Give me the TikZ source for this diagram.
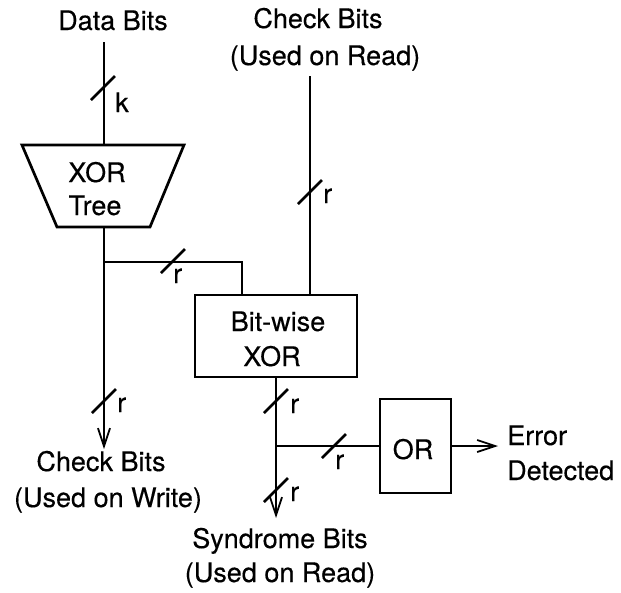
\documentclass[tikz,border=0pt]{standalone}
\usepackage{fontspec}
\newfontfamily\diagfont[FakeBold=0.3]{TeX Gyre Heros}
\usetikzlibrary{arrows.meta}
\begin{document}
\begin{tikzpicture}[x=1pt,y=-1pt,
  wire/.style={line width=2.7pt},
  flow/.style={wire, -{Straight Barb[length=18pt,width=12pt,line width=1.8pt]}},
  block/.style={draw, line width=2.7pt, inner sep=0pt},
  txt/.style={font=\diagfont\fontsize{27}{35}\selectfont, inner sep=0pt, anchor=base},
  buslbl/.style={font=\diagfont\fontsize{27}{30}\selectfont, inner sep=0pt, anchor=base west},
  busmark/.pic={\draw[line width=2.5pt] (-12,12) -- (12,-12);}
]
\useasboundingbox (0,0) rectangle (621,592);

% outer labels
\node[txt] (databits) at (113,30) {Data Bits};
\node[txt] (ckr1) at (318,28) {Check Bits};
\node[txt] (ckr2) at (325,65) {(Used on Read)};
\node[txt] (ckw1) at (101,471) {Check Bits};
\node[txt] (ckw2) at (108,507) {(Used on Write)};
\node[txt] (syn1) at (280,548) {Syndrome Bits};
\node[txt] (syn2) at (280,582) {(Used on Read)};
\node[txt, anchor=base west] (err1) at (507,445) {Error};
\node[txt, anchor=base west] (err2) at (507,480) {Detected};

% XOR tree (trapezoid)
\coordinate (treetop) at (104,145);
\coordinate (treebot) at (104,227);
\draw[wire] (22,145) -- (184,145) -- (150,227) -- (57,227) -- cycle;
\node[txt] (tree1) at (97,182) {XOR};
\node[txt] (tree2) at (95,215) {Tree};

% bit-wise XOR block
\node[block, minimum width=162pt, minimum height=82pt] (bxor) at (276,336) {};
\node[txt] (bx1) at (278,331) {Bit-wise};
\node[txt] (bx2) at (272,366) {XOR};

% OR gate block
\node[block, minimum width=71pt, minimum height=94pt] (orgate) at (415.5,446) {};
\node[txt] (ortxt) at (413,459) {OR};

% wire end points
\coordinate (din) at (104,42);
\coordinate (crin) at (310,76);
\coordinate (split) at (104,262);
\coordinate (wout) at (104,449);
\coordinate (tap) at (276,446);
\coordinate (sout) at (276,518);
\coordinate (errout) at (498,446);

% wires
\draw[wire] (din) -- (treetop);
\draw[flow] (treebot) -- (wout);
\draw[wire] (split) -| ([xshift=-34pt]bxor.north);
\draw[wire] (crin) -- (crin |- bxor.north);
\draw[flow] (bxor.south) -- (sout);
\draw[wire] (tap) -- (orgate.west);
\draw[flow] (orgate.east) -- (errout);

% bus width marks
\pic at (103,88) {busmark};
\pic at (173,261) {busmark};
\pic at (310,192) {busmark};
\pic at (276,401) {busmark};
\pic at (334,446) {busmark};
\pic at (276,490) {busmark};
\pic at (104,401) {busmark};

% bus width labels
\node[buslbl] (lk) at (115,112) {k};
\node[buslbl] (lr1) at (173,283) {r};
\node[buslbl] (lr2) at (323,203) {r};
\node[buslbl] (lr3) at (290,413) {r};
\node[buslbl] (lr4) at (335,469) {r};
\node[buslbl] (lr5) at (290,501) {r};
\node[buslbl] (lr6) at (117,412) {r};
\end{tikzpicture}
\end{document}
